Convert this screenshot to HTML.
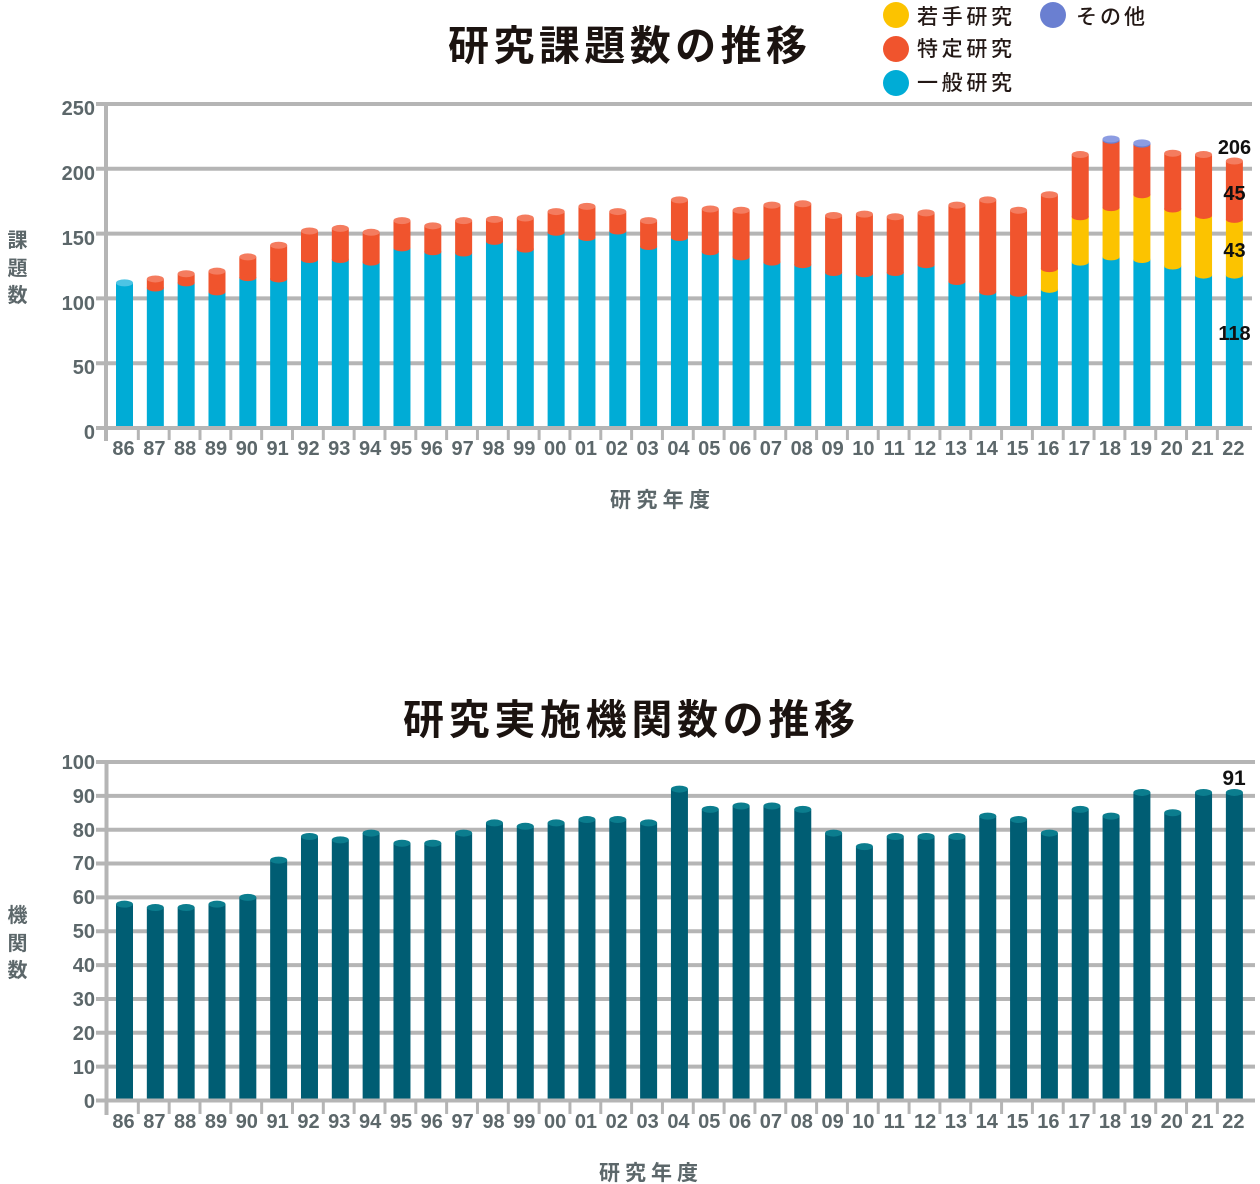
<!DOCTYPE html>
<html>
<head>
<meta charset="utf-8">
<style>
html,body{margin:0;padding:0;background:#fff;}
svg{display:block;}
.yl{font-family:"Liberation Sans",sans-serif;font-weight:700;font-size:20px;fill:#5c676a;text-anchor:end;}
.xl{font-family:"Liberation Sans",sans-serif;font-weight:700;font-size:20px;fill:#5c676a;text-anchor:middle;}
.at{font-family:"Liberation Sans","Noto Sans CJK JP",sans-serif;font-weight:700;font-size:21px;fill:#5c676a;}
.yt{font-family:"Liberation Sans","Noto Sans CJK JP",sans-serif;font-weight:700;font-size:20px;fill:#5c676a;text-anchor:middle;}
.tt{font-family:"Liberation Sans","Noto Sans CJK JP",sans-serif;font-weight:700;font-size:41px;fill:#1b1310;}
.lg{font-family:"Liberation Sans","Noto Sans CJK JP",sans-serif;font-weight:500;font-size:21px;fill:#231815;}
.vl{font-family:"Liberation Sans",sans-serif;font-weight:700;font-size:20px;fill:#111;text-anchor:middle;}
.b{fill:#00acd6}.bc{fill:#4cc4e4}
.r{fill:#f0542d}.rc{fill:#f47c5f}
.y{fill:#fcc300}
.p{fill:#6a7fd1}.pc{fill:#8c9ce2}
.t{fill:#005d73}.tc{fill:#0b7d8e}
</style>
</head>
<body>
<svg width="1260" height="1184" viewBox="0 0 1260 1184" xmlns="http://www.w3.org/2000/svg">
<!-- ================= TOP CHART ================= -->
<text class="tt" x="448" y="60" textLength="359" lengthAdjust="spacing">研究課題数の推移</text>

<!-- legend -->
<circle cx="896" cy="15" r="13" fill="#fcc300"/>
<circle cx="896" cy="49" r="13" fill="#f0542d"/>
<circle cx="896" cy="83" r="13" fill="#00acd6"/>
<circle cx="1053" cy="15" r="13" fill="#6a7fd1"/>
<text class="lg" x="917" y="24" textLength="95" lengthAdjust="spacing">若手研究</text>
<text class="lg" x="917" y="56" textLength="95" lengthAdjust="spacing">特定研究</text>
<text class="lg" x="917" y="90" textLength="95" lengthAdjust="spacing">一般研究</text>
<text class="lg" x="1076" y="24" textLength="69" lengthAdjust="spacing">その他</text>

<!-- gridlines -->
<g stroke="#b5b5b5" stroke-width="4">
<line x1="96" y1="104" x2="1252" y2="104"/>
<line x1="96" y1="168.8" x2="1252" y2="168.8"/>
<line x1="96" y1="233.6" x2="1252" y2="233.6"/>
<line x1="96" y1="298.4" x2="1252" y2="298.4"/>
<line x1="96" y1="363.2" x2="1252" y2="363.2"/>
</g>

<!-- y labels -->
<text class="yl" x="95" y="115">250</text>
<text class="yl" x="95" y="180">200</text>
<text class="yl" x="95" y="245">150</text>
<text class="yl" x="95" y="310">100</text>
<text class="yl" x="95" y="374">50</text>
<text class="yl" x="95" y="439">0</text>

<text class="yt" x="17.5" y="247">課</text>
<text class="yt" x="17.5" y="275">題</text>
<text class="yt" x="17.5" y="302">数</text>

<!-- bars top -->
<g transform="translate(116,0)"><rect class="b" x="0" y="282.85" width="17" height="145.15"/><ellipse class="bc" cx="8.5" cy="282.85" rx="8.5" ry="3.5"/></g>
<g transform="translate(146.83,0)"><rect class="b" x="0" y="288.03" width="17" height="139.97"/><rect class="r" x="0" y="278.96" width="17" height="9.07"/><ellipse class="r" cx="8.5" cy="288.03" rx="8.5" ry="3.5"/><ellipse class="rc" cx="8.5" cy="278.96" rx="8.5" ry="3.5"/></g>
<g transform="translate(177.66,0)"><rect class="b" x="0" y="282.85" width="17" height="145.15"/><rect class="r" x="0" y="273.78" width="17" height="9.07"/><ellipse class="r" cx="8.5" cy="282.85" rx="8.5" ry="3.5"/><ellipse class="rc" cx="8.5" cy="273.78" rx="8.5" ry="3.5"/></g>
<g transform="translate(208.49,0)"><rect class="b" x="0" y="291.92" width="17" height="136.08"/><rect class="r" x="0" y="271.18" width="17" height="20.74"/><ellipse class="r" cx="8.5" cy="291.92" rx="8.5" ry="3.5"/><ellipse class="rc" cx="8.5" cy="271.18" rx="8.5" ry="3.5"/></g>
<g transform="translate(239.32,0)"><rect class="b" x="0" y="277.66" width="17" height="150.34"/><rect class="r" x="0" y="256.93" width="17" height="20.73"/><ellipse class="r" cx="8.5" cy="277.66" rx="8.5" ry="3.5"/><ellipse class="rc" cx="8.5" cy="256.93" rx="8.5" ry="3.5"/></g>
<g transform="translate(270.15,0)"><rect class="b" x="0" y="278.96" width="17" height="149.04"/><rect class="r" x="0" y="245.26" width="17" height="33.7"/><ellipse class="r" cx="8.5" cy="278.96" rx="8.5" ry="3.5"/><ellipse class="rc" cx="8.5" cy="245.26" rx="8.5" ry="3.5"/></g>
<g transform="translate(300.98,0)"><rect class="b" x="0" y="259.52" width="17" height="168.48"/><rect class="r" x="0" y="231.01" width="17" height="28.51"/><ellipse class="r" cx="8.5" cy="259.52" rx="8.5" ry="3.5"/><ellipse class="rc" cx="8.5" cy="231.01" rx="8.5" ry="3.5"/></g>
<g transform="translate(331.81,0)"><rect class="b" x="0" y="259.52" width="17" height="168.48"/><rect class="r" x="0" y="228.42" width="17" height="31.1"/><ellipse class="r" cx="8.5" cy="259.52" rx="8.5" ry="3.5"/><ellipse class="rc" cx="8.5" cy="228.42" rx="8.5" ry="3.5"/></g>
<g transform="translate(362.64,0)"><rect class="b" x="0" y="262.11" width="17" height="165.89"/><rect class="r" x="0" y="232.3" width="17" height="29.81"/><ellipse class="r" cx="8.5" cy="262.11" rx="8.5" ry="3.5"/><ellipse class="rc" cx="8.5" cy="232.3" rx="8.5" ry="3.5"/></g>
<g transform="translate(393.47,0)"><rect class="b" x="0" y="247.86" width="17" height="180.14"/><rect class="r" x="0" y="220.64" width="17" height="27.22"/><ellipse class="r" cx="8.5" cy="247.86" rx="8.5" ry="3.5"/><ellipse class="rc" cx="8.5" cy="220.64" rx="8.5" ry="3.5"/></g>
<g transform="translate(424.3,0)"><rect class="b" x="0" y="251.74" width="17" height="176.26"/><rect class="r" x="0" y="225.82" width="17" height="25.92"/><ellipse class="r" cx="8.5" cy="251.74" rx="8.5" ry="3.5"/><ellipse class="rc" cx="8.5" cy="225.82" rx="8.5" ry="3.5"/></g>
<g transform="translate(455.13,0)"><rect class="b" x="0" y="253.04" width="17" height="174.96"/><rect class="r" x="0" y="220.64" width="17" height="32.4"/><ellipse class="r" cx="8.5" cy="253.04" rx="8.5" ry="3.5"/><ellipse class="rc" cx="8.5" cy="220.64" rx="8.5" ry="3.5"/></g>
<g transform="translate(485.96,0)"><rect class="b" x="0" y="241.38" width="17" height="186.62"/><rect class="r" x="0" y="219.34" width="17" height="22.04"/><ellipse class="r" cx="8.5" cy="241.38" rx="8.5" ry="3.5"/><ellipse class="rc" cx="8.5" cy="219.34" rx="8.5" ry="3.5"/></g>
<g transform="translate(516.79,0)"><rect class="b" x="0" y="249.15" width="17" height="178.85"/><rect class="r" x="0" y="218.05" width="17" height="31.1"/><ellipse class="r" cx="8.5" cy="249.15" rx="8.5" ry="3.5"/><ellipse class="rc" cx="8.5" cy="218.05" rx="8.5" ry="3.5"/></g>
<g transform="translate(547.62,0)"><rect class="b" x="0" y="232.3" width="17" height="195.7"/><rect class="r" x="0" y="211.57" width="17" height="20.73"/><ellipse class="r" cx="8.5" cy="232.3" rx="8.5" ry="3.5"/><ellipse class="rc" cx="8.5" cy="211.57" rx="8.5" ry="3.5"/></g>
<g transform="translate(578.45,0)"><rect class="b" x="0" y="237.49" width="17" height="190.51"/><rect class="r" x="0" y="206.38" width="17" height="31.11"/><ellipse class="r" cx="8.5" cy="237.49" rx="8.5" ry="3.5"/><ellipse class="rc" cx="8.5" cy="206.38" rx="8.5" ry="3.5"/></g>
<g transform="translate(609.28,0)"><rect class="b" x="0" y="231.01" width="17" height="196.99"/><rect class="r" x="0" y="211.57" width="17" height="19.44"/><ellipse class="r" cx="8.5" cy="231.01" rx="8.5" ry="3.5"/><ellipse class="rc" cx="8.5" cy="211.57" rx="8.5" ry="3.5"/></g>
<g transform="translate(640.11,0)"><rect class="b" x="0" y="246.56" width="17" height="181.44"/><rect class="r" x="0" y="220.64" width="17" height="25.92"/><ellipse class="r" cx="8.5" cy="246.56" rx="8.5" ry="3.5"/><ellipse class="rc" cx="8.5" cy="220.64" rx="8.5" ry="3.5"/></g>
<g transform="translate(670.94,0)"><rect class="b" x="0" y="237.49" width="17" height="190.51"/><rect class="r" x="0" y="199.9" width="17" height="37.59"/><ellipse class="r" cx="8.5" cy="237.49" rx="8.5" ry="3.5"/><ellipse class="rc" cx="8.5" cy="199.9" rx="8.5" ry="3.5"/></g>
<g transform="translate(701.77,0)"><rect class="b" x="0" y="251.74" width="17" height="176.26"/><rect class="r" x="0" y="208.98" width="17" height="42.76"/><ellipse class="r" cx="8.5" cy="251.74" rx="8.5" ry="3.5"/><ellipse class="rc" cx="8.5" cy="208.98" rx="8.5" ry="3.5"/></g>
<g transform="translate(732.6,0)"><rect class="b" x="0" y="256.93" width="17" height="171.07"/><rect class="r" x="0" y="210.27" width="17" height="46.66"/><ellipse class="r" cx="8.5" cy="256.93" rx="8.5" ry="3.5"/><ellipse class="rc" cx="8.5" cy="210.27" rx="8.5" ry="3.5"/></g>
<g transform="translate(763.43,0)"><rect class="b" x="0" y="262.11" width="17" height="165.89"/><rect class="r" x="0" y="205.09" width="17" height="57.02"/><ellipse class="r" cx="8.5" cy="262.11" rx="8.5" ry="3.5"/><ellipse class="rc" cx="8.5" cy="205.09" rx="8.5" ry="3.5"/></g>
<g transform="translate(794.26,0)"><rect class="b" x="0" y="264.7" width="17" height="163.3"/><rect class="r" x="0" y="203.79" width="17" height="60.91"/><ellipse class="r" cx="8.5" cy="264.7" rx="8.5" ry="3.5"/><ellipse class="rc" cx="8.5" cy="203.79" rx="8.5" ry="3.5"/></g>
<g transform="translate(825.09,0)"><rect class="b" x="0" y="272.48" width="17" height="155.52"/><rect class="r" x="0" y="215.46" width="17" height="57.02"/><ellipse class="r" cx="8.5" cy="272.48" rx="8.5" ry="3.5"/><ellipse class="rc" cx="8.5" cy="215.46" rx="8.5" ry="3.5"/></g>
<g transform="translate(855.92,0)"><rect class="b" x="0" y="273.78" width="17" height="154.22"/><rect class="r" x="0" y="214.16" width="17" height="59.62"/><ellipse class="r" cx="8.5" cy="273.78" rx="8.5" ry="3.5"/><ellipse class="rc" cx="8.5" cy="214.16" rx="8.5" ry="3.5"/></g>
<g transform="translate(886.75,0)"><rect class="b" x="0" y="272.48" width="17" height="155.52"/><rect class="r" x="0" y="216.75" width="17" height="55.73"/><ellipse class="r" cx="8.5" cy="272.48" rx="8.5" ry="3.5"/><ellipse class="rc" cx="8.5" cy="216.75" rx="8.5" ry="3.5"/></g>
<g transform="translate(917.58,0)"><rect class="b" x="0" y="264.7" width="17" height="163.3"/><rect class="r" x="0" y="212.86" width="17" height="51.84"/><ellipse class="r" cx="8.5" cy="264.7" rx="8.5" ry="3.5"/><ellipse class="rc" cx="8.5" cy="212.86" rx="8.5" ry="3.5"/></g>
<g transform="translate(948.41,0)"><rect class="b" x="0" y="281.55" width="17" height="146.45"/><rect class="r" x="0" y="205.09" width="17" height="76.46"/><ellipse class="r" cx="8.5" cy="281.55" rx="8.5" ry="3.5"/><ellipse class="rc" cx="8.5" cy="205.09" rx="8.5" ry="3.5"/></g>
<g transform="translate(979.24,0)"><rect class="b" x="0" y="291.92" width="17" height="136.08"/><rect class="r" x="0" y="199.9" width="17" height="92.02"/><ellipse class="r" cx="8.5" cy="291.92" rx="8.5" ry="3.5"/><ellipse class="rc" cx="8.5" cy="199.9" rx="8.5" ry="3.5"/></g>
<g transform="translate(1010.07,0)"><rect class="b" x="0" y="293.22" width="17" height="134.78"/><rect class="r" x="0" y="210.27" width="17" height="82.95"/><ellipse class="r" cx="8.5" cy="293.22" rx="8.5" ry="3.5"/><ellipse class="rc" cx="8.5" cy="210.27" rx="8.5" ry="3.5"/></g>
<g transform="translate(1040.9,0)"><rect class="b" x="0" y="289.33" width="17" height="138.67"/><rect class="y" x="0" y="268.59" width="17" height="20.74"/><ellipse class="y" cx="8.5" cy="289.33" rx="8.5" ry="3.5"/><rect class="r" x="0" y="194.72" width="17" height="73.87"/><ellipse class="r" cx="8.5" cy="268.59" rx="8.5" ry="3.5"/><ellipse class="rc" cx="8.5" cy="194.72" rx="8.5" ry="3.5"/></g>
<g transform="translate(1071.73,0)"><rect class="b" x="0" y="262.11" width="17" height="165.89"/><rect class="y" x="0" y="216.75" width="17" height="45.36"/><ellipse class="y" cx="8.5" cy="262.11" rx="8.5" ry="3.5"/><rect class="r" x="0" y="154.54" width="17" height="62.21"/><ellipse class="r" cx="8.5" cy="216.75" rx="8.5" ry="3.5"/><ellipse class="rc" cx="8.5" cy="154.54" rx="8.5" ry="3.5"/></g>
<g transform="translate(1102.56,0)"><rect class="b" x="0" y="256.93" width="17" height="171.07"/><rect class="y" x="0" y="207.68" width="17" height="49.25"/><ellipse class="y" cx="8.5" cy="256.93" rx="8.5" ry="3.5"/><rect class="r" x="0" y="140.29" width="17" height="67.39"/><ellipse class="r" cx="8.5" cy="207.68" rx="8.5" ry="3.5"/><rect class="p" x="0" y="138.99" width="17" height="1.3"/><ellipse class="p" cx="8.5" cy="140.29" rx="8.5" ry="3.5"/><ellipse class="pc" cx="8.5" cy="138.99" rx="8.5" ry="3.5"/></g>
<g transform="translate(1133.39,0)"><rect class="b" x="0" y="259.52" width="17" height="168.48"/><rect class="y" x="0" y="194.72" width="17" height="64.8"/><ellipse class="y" cx="8.5" cy="259.52" rx="8.5" ry="3.5"/><rect class="r" x="0" y="144.18" width="17" height="50.54"/><ellipse class="r" cx="8.5" cy="194.72" rx="8.5" ry="3.5"/><rect class="p" x="0" y="142.88" width="17" height="1.3"/><ellipse class="p" cx="8.5" cy="144.18" rx="8.5" ry="3.5"/><ellipse class="pc" cx="8.5" cy="142.88" rx="8.5" ry="3.5"/></g>
<g transform="translate(1164.22,0)"><rect class="b" x="0" y="266" width="17" height="162"/><rect class="y" x="0" y="208.98" width="17" height="57.02"/><ellipse class="y" cx="8.5" cy="266" rx="8.5" ry="3.5"/><rect class="r" x="0" y="153.25" width="17" height="55.73"/><ellipse class="r" cx="8.5" cy="208.98" rx="8.5" ry="3.5"/><ellipse class="rc" cx="8.5" cy="153.25" rx="8.5" ry="3.5"/></g>
<g transform="translate(1195.05,0)"><rect class="b" x="0" y="275.07" width="17" height="152.93"/><rect class="y" x="0" y="215.46" width="17" height="59.61"/><ellipse class="y" cx="8.5" cy="275.07" rx="8.5" ry="3.5"/><rect class="r" x="0" y="154.54" width="17" height="60.92"/><ellipse class="r" cx="8.5" cy="215.46" rx="8.5" ry="3.5"/><ellipse class="rc" cx="8.5" cy="154.54" rx="8.5" ry="3.5"/></g>
<g transform="translate(1225.88,0)"><rect class="b" x="0" y="275.07" width="17" height="152.93"/><rect class="y" x="0" y="219.34" width="17" height="55.73"/><ellipse class="y" cx="8.5" cy="275.07" rx="8.5" ry="3.5"/><rect class="r" x="0" y="161.02" width="17" height="58.32"/><ellipse class="r" cx="8.5" cy="219.34" rx="8.5" ry="3.5"/><ellipse class="rc" cx="8.5" cy="161.02" rx="8.5" ry="3.5"/></g>

<!-- axes top -->
<line x1="96" y1="428" x2="1252" y2="428" stroke="#b5b5b5" stroke-width="4"/>
<line x1="106" y1="102" x2="106" y2="441" stroke="#b5b5b5" stroke-width="4"/>
<path stroke="#b5b5b5" stroke-width="3" fill="none" d="M138.33 428V440M169.16 428V440M199.99 428V440M230.82 428V440M261.65 428V440M292.48 428V440M323.31 428V440M354.14 428V440M384.97 428V440M415.8 428V440M446.63 428V440M477.46 428V440M508.29 428V440M539.12 428V440M569.95 428V440M600.78 428V440M631.61 428V440M662.44 428V440M693.27 428V440M724.1 428V440M754.93 428V440M785.76 428V440M816.59 428V440M847.42 428V440M878.25 428V440M909.08 428V440M939.91 428V440M970.74 428V440M1001.57 428V440M1032.4 428V440M1063.23 428V440M1094.06 428V440M1124.89 428V440M1155.72 428V440M1186.55 428V440M1217.38 428V440"/>

<!-- value labels -->
<text class="vl" x="1234.5" y="154">206</text>
<text class="vl" x="1234.5" y="200">45</text>
<text class="vl" x="1234.5" y="257">43</text>
<text class="vl" x="1234.5" y="340">118</text>

<!-- x labels top -->
<g>
<text class="xl" x="123.5" y="455">86</text>
<text class="xl" x="154.33" y="455">87</text>
<text class="xl" x="185.16" y="455">88</text>
<text class="xl" x="215.99" y="455">89</text>
<text class="xl" x="246.82" y="455">90</text>
<text class="xl" x="277.65" y="455">91</text>
<text class="xl" x="308.48" y="455">92</text>
<text class="xl" x="339.31" y="455">93</text>
<text class="xl" x="370.14" y="455">94</text>
<text class="xl" x="400.97" y="455">95</text>
<text class="xl" x="431.8" y="455">96</text>
<text class="xl" x="462.63" y="455">97</text>
<text class="xl" x="493.46" y="455">98</text>
<text class="xl" x="524.29" y="455">99</text>
<text class="xl" x="555.12" y="455">00</text>
<text class="xl" x="585.95" y="455">01</text>
<text class="xl" x="616.78" y="455">02</text>
<text class="xl" x="647.61" y="455">03</text>
<text class="xl" x="678.44" y="455">04</text>
<text class="xl" x="709.27" y="455">05</text>
<text class="xl" x="740.1" y="455">06</text>
<text class="xl" x="770.93" y="455">07</text>
<text class="xl" x="801.76" y="455">08</text>
<text class="xl" x="832.59" y="455">09</text>
<text class="xl" x="863.42" y="455">10</text>
<text class="xl" x="894.25" y="455">11</text>
<text class="xl" x="925.08" y="455">12</text>
<text class="xl" x="955.91" y="455">13</text>
<text class="xl" x="986.74" y="455">14</text>
<text class="xl" x="1017.57" y="455">15</text>
<text class="xl" x="1048.4" y="455">16</text>
<text class="xl" x="1079.23" y="455">17</text>
<text class="xl" x="1110.06" y="455">18</text>
<text class="xl" x="1140.89" y="455">19</text>
<text class="xl" x="1171.72" y="455">20</text>
<text class="xl" x="1202.55" y="455">21</text>
<text class="xl" x="1233.38" y="455">22</text>
</g>
<text class="at" x="610" y="507" textLength="100" lengthAdjust="spacing">研究年度</text>

<!-- ================= BOTTOM CHART ================= -->
<text class="tt" x="403" y="734" textLength="452" lengthAdjust="spacing">研究実施機関数の推移</text>

<g stroke="#b5b5b5" stroke-width="4">
<line x1="96" y1="762" x2="1255" y2="762"/>
<line x1="96" y1="795.85" x2="1255" y2="795.85"/>
<line x1="96" y1="829.7" x2="1255" y2="829.7"/>
<line x1="96" y1="863.55" x2="1255" y2="863.55"/>
<line x1="96" y1="897.4" x2="1255" y2="897.4"/>
<line x1="96" y1="931.25" x2="1255" y2="931.25"/>
<line x1="96" y1="965.1" x2="1255" y2="965.1"/>
<line x1="96" y1="998.95" x2="1255" y2="998.95"/>
<line x1="96" y1="1032.8" x2="1255" y2="1032.8"/>
<line x1="96" y1="1066.65" x2="1255" y2="1066.65"/>
</g>

<text class="yl" x="95" y="769">100</text>
<text class="yl" x="95" y="803">90</text>
<text class="yl" x="95" y="837">80</text>
<text class="yl" x="95" y="870">70</text>
<text class="yl" x="95" y="904">60</text>
<text class="yl" x="95" y="938">50</text>
<text class="yl" x="95" y="972">40</text>
<text class="yl" x="95" y="1006">30</text>
<text class="yl" x="95" y="1040">20</text>
<text class="yl" x="95" y="1074">10</text>
<text class="yl" x="95" y="1108">0</text>

<text class="yt" x="17.5" y="922">機</text>
<text class="yt" x="17.5" y="950">関</text>
<text class="yt" x="17.5" y="977">数</text>

<!-- bars bottom -->
<g transform="translate(116,0)"><rect class="t" x="0" y="904.17" width="17" height="196.33"/><ellipse class="tc" cx="8.5" cy="904.17" rx="8.5" ry="3.5"/></g>
<g transform="translate(146.83,0)"><rect class="t" x="0" y="907.55" width="17" height="192.95"/><ellipse class="tc" cx="8.5" cy="907.55" rx="8.5" ry="3.5"/></g>
<g transform="translate(177.66,0)"><rect class="t" x="0" y="907.55" width="17" height="192.95"/><ellipse class="tc" cx="8.5" cy="907.55" rx="8.5" ry="3.5"/></g>
<g transform="translate(208.49,0)"><rect class="t" x="0" y="904.17" width="17" height="196.33"/><ellipse class="tc" cx="8.5" cy="904.17" rx="8.5" ry="3.5"/></g>
<g transform="translate(239.32,0)"><rect class="t" x="0" y="897.4" width="17" height="203.1"/><ellipse class="tc" cx="8.5" cy="897.4" rx="8.5" ry="3.5"/></g>
<g transform="translate(270.15,0)"><rect class="t" x="0" y="860.16" width="17" height="240.34"/><ellipse class="tc" cx="8.5" cy="860.16" rx="8.5" ry="3.5"/></g>
<g transform="translate(300.98,0)"><rect class="t" x="0" y="836.47" width="17" height="264.03"/><ellipse class="tc" cx="8.5" cy="836.47" rx="8.5" ry="3.5"/></g>
<g transform="translate(331.81,0)"><rect class="t" x="0" y="839.85" width="17" height="260.65"/><ellipse class="tc" cx="8.5" cy="839.85" rx="8.5" ry="3.5"/></g>
<g transform="translate(362.64,0)"><rect class="t" x="0" y="833.08" width="17" height="267.42"/><ellipse class="tc" cx="8.5" cy="833.08" rx="8.5" ry="3.5"/></g>
<g transform="translate(393.47,0)"><rect class="t" x="0" y="843.24" width="17" height="257.26"/><ellipse class="tc" cx="8.5" cy="843.24" rx="8.5" ry="3.5"/></g>
<g transform="translate(424.3,0)"><rect class="t" x="0" y="843.24" width="17" height="257.26"/><ellipse class="tc" cx="8.5" cy="843.24" rx="8.5" ry="3.5"/></g>
<g transform="translate(455.13,0)"><rect class="t" x="0" y="833.08" width="17" height="267.42"/><ellipse class="tc" cx="8.5" cy="833.08" rx="8.5" ry="3.5"/></g>
<g transform="translate(485.96,0)"><rect class="t" x="0" y="822.93" width="17" height="277.57"/><ellipse class="tc" cx="8.5" cy="822.93" rx="8.5" ry="3.5"/></g>
<g transform="translate(516.79,0)"><rect class="t" x="0" y="826.31" width="17" height="274.19"/><ellipse class="tc" cx="8.5" cy="826.31" rx="8.5" ry="3.5"/></g>
<g transform="translate(547.62,0)"><rect class="t" x="0" y="822.93" width="17" height="277.57"/><ellipse class="tc" cx="8.5" cy="822.93" rx="8.5" ry="3.5"/></g>
<g transform="translate(578.45,0)"><rect class="t" x="0" y="819.54" width="17" height="280.96"/><ellipse class="tc" cx="8.5" cy="819.54" rx="8.5" ry="3.5"/></g>
<g transform="translate(609.28,0)"><rect class="t" x="0" y="819.54" width="17" height="280.96"/><ellipse class="tc" cx="8.5" cy="819.54" rx="8.5" ry="3.5"/></g>
<g transform="translate(640.11,0)"><rect class="t" x="0" y="822.93" width="17" height="277.57"/><ellipse class="tc" cx="8.5" cy="822.93" rx="8.5" ry="3.5"/></g>
<g transform="translate(670.94,0)"><rect class="t" x="0" y="789.08" width="17" height="311.42"/><ellipse class="tc" cx="8.5" cy="789.08" rx="8.5" ry="3.5"/></g>
<g transform="translate(701.77,0)"><rect class="t" x="0" y="809.39" width="17" height="291.11"/><ellipse class="tc" cx="8.5" cy="809.39" rx="8.5" ry="3.5"/></g>
<g transform="translate(732.6,0)"><rect class="t" x="0" y="806" width="17" height="294.5"/><ellipse class="tc" cx="8.5" cy="806" rx="8.5" ry="3.5"/></g>
<g transform="translate(763.43,0)"><rect class="t" x="0" y="806" width="17" height="294.5"/><ellipse class="tc" cx="8.5" cy="806" rx="8.5" ry="3.5"/></g>
<g transform="translate(794.26,0)"><rect class="t" x="0" y="809.39" width="17" height="291.11"/><ellipse class="tc" cx="8.5" cy="809.39" rx="8.5" ry="3.5"/></g>
<g transform="translate(825.09,0)"><rect class="t" x="0" y="833.08" width="17" height="267.42"/><ellipse class="tc" cx="8.5" cy="833.08" rx="8.5" ry="3.5"/></g>
<g transform="translate(855.92,0)"><rect class="t" x="0" y="846.62" width="17" height="253.88"/><ellipse class="tc" cx="8.5" cy="846.62" rx="8.5" ry="3.5"/></g>
<g transform="translate(886.75,0)"><rect class="t" x="0" y="836.47" width="17" height="264.03"/><ellipse class="tc" cx="8.5" cy="836.47" rx="8.5" ry="3.5"/></g>
<g transform="translate(917.58,0)"><rect class="t" x="0" y="836.47" width="17" height="264.03"/><ellipse class="tc" cx="8.5" cy="836.47" rx="8.5" ry="3.5"/></g>
<g transform="translate(948.41,0)"><rect class="t" x="0" y="836.47" width="17" height="264.03"/><ellipse class="tc" cx="8.5" cy="836.47" rx="8.5" ry="3.5"/></g>
<g transform="translate(979.24,0)"><rect class="t" x="0" y="816.16" width="17" height="284.34"/><ellipse class="tc" cx="8.5" cy="816.16" rx="8.5" ry="3.5"/></g>
<g transform="translate(1010.07,0)"><rect class="t" x="0" y="819.54" width="17" height="280.96"/><ellipse class="tc" cx="8.5" cy="819.54" rx="8.5" ry="3.5"/></g>
<g transform="translate(1040.9,0)"><rect class="t" x="0" y="833.08" width="17" height="267.42"/><ellipse class="tc" cx="8.5" cy="833.08" rx="8.5" ry="3.5"/></g>
<g transform="translate(1071.73,0)"><rect class="t" x="0" y="809.39" width="17" height="291.11"/><ellipse class="tc" cx="8.5" cy="809.39" rx="8.5" ry="3.5"/></g>
<g transform="translate(1102.56,0)"><rect class="t" x="0" y="816.16" width="17" height="284.34"/><ellipse class="tc" cx="8.5" cy="816.16" rx="8.5" ry="3.5"/></g>
<g transform="translate(1133.39,0)"><rect class="t" x="0" y="792.46" width="17" height="308.04"/><ellipse class="tc" cx="8.5" cy="792.46" rx="8.5" ry="3.5"/></g>
<g transform="translate(1164.22,0)"><rect class="t" x="0" y="812.77" width="17" height="287.73"/><ellipse class="tc" cx="8.5" cy="812.77" rx="8.5" ry="3.5"/></g>
<g transform="translate(1195.05,0)"><rect class="t" x="0" y="792.46" width="17" height="308.04"/><ellipse class="tc" cx="8.5" cy="792.46" rx="8.5" ry="3.5"/></g>
<g transform="translate(1225.88,0)"><rect class="t" x="0" y="792.46" width="17" height="308.04"/><ellipse class="tc" cx="8.5" cy="792.46" rx="8.5" ry="3.5"/></g>

<!-- axes bottom -->
<line x1="96" y1="1100.5" x2="1255" y2="1100.5" stroke="#b5b5b5" stroke-width="4"/>
<line x1="106.5" y1="760" x2="106.5" y2="1115" stroke="#b5b5b5" stroke-width="4"/>
<path stroke="#b5b5b5" stroke-width="3" fill="none" d="M138.33 1100V1114M169.16 1100V1114M199.99 1100V1114M230.82 1100V1114M261.65 1100V1114M292.48 1100V1114M323.31 1100V1114M354.14 1100V1114M384.97 1100V1114M415.8 1100V1114M446.63 1100V1114M477.46 1100V1114M508.29 1100V1114M539.12 1100V1114M569.95 1100V1114M600.78 1100V1114M631.61 1100V1114M662.44 1100V1114M693.27 1100V1114M724.1 1100V1114M754.93 1100V1114M785.76 1100V1114M816.59 1100V1114M847.42 1100V1114M878.25 1100V1114M909.08 1100V1114M939.91 1100V1114M970.74 1100V1114M1001.57 1100V1114M1032.4 1100V1114M1063.23 1100V1114M1094.06 1100V1114M1124.89 1100V1114M1155.72 1100V1114M1186.55 1100V1114M1217.38 1100V1114"/>

<text class="vl" x="1234" y="785" style="font-size:21px">91</text>

<g>
<text class="xl" x="123.5" y="1128">86</text>
<text class="xl" x="154.33" y="1128">87</text>
<text class="xl" x="185.16" y="1128">88</text>
<text class="xl" x="215.99" y="1128">89</text>
<text class="xl" x="246.82" y="1128">90</text>
<text class="xl" x="277.65" y="1128">91</text>
<text class="xl" x="308.48" y="1128">92</text>
<text class="xl" x="339.31" y="1128">93</text>
<text class="xl" x="370.14" y="1128">94</text>
<text class="xl" x="400.97" y="1128">95</text>
<text class="xl" x="431.8" y="1128">96</text>
<text class="xl" x="462.63" y="1128">97</text>
<text class="xl" x="493.46" y="1128">98</text>
<text class="xl" x="524.29" y="1128">99</text>
<text class="xl" x="555.12" y="1128">00</text>
<text class="xl" x="585.95" y="1128">01</text>
<text class="xl" x="616.78" y="1128">02</text>
<text class="xl" x="647.61" y="1128">03</text>
<text class="xl" x="678.44" y="1128">04</text>
<text class="xl" x="709.27" y="1128">05</text>
<text class="xl" x="740.1" y="1128">06</text>
<text class="xl" x="770.93" y="1128">07</text>
<text class="xl" x="801.76" y="1128">08</text>
<text class="xl" x="832.59" y="1128">09</text>
<text class="xl" x="863.42" y="1128">10</text>
<text class="xl" x="894.25" y="1128">11</text>
<text class="xl" x="925.08" y="1128">12</text>
<text class="xl" x="955.91" y="1128">13</text>
<text class="xl" x="986.74" y="1128">14</text>
<text class="xl" x="1017.57" y="1128">15</text>
<text class="xl" x="1048.4" y="1128">16</text>
<text class="xl" x="1079.23" y="1128">17</text>
<text class="xl" x="1110.06" y="1128">18</text>
<text class="xl" x="1140.89" y="1128">19</text>
<text class="xl" x="1171.72" y="1128">20</text>
<text class="xl" x="1202.55" y="1128">21</text>
<text class="xl" x="1233.38" y="1128">22</text>
</g>
<text class="at" x="599" y="1180" textLength="99" lengthAdjust="spacing">研究年度</text>
</svg>
</body>
</html>
